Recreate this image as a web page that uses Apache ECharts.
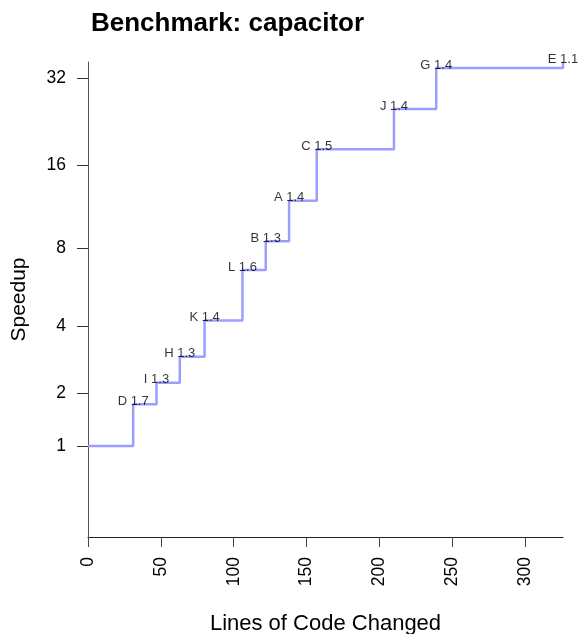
<!DOCTYPE html>
<html>
<head>
<meta charset="utf-8">
<script src="https://cdn.jsdelivr.net/npm/echarts@6/dist/echarts.min.js"></script>
<style>
  html, body { margin: 0; padding: 0; background: #fff; }
  #main { width: 579px; height: 634px; }
</style>
</head>
<body>
<div id="main"></div>
<script>
// step names, lines changed where each step lands, cumulative speedup and per-step factor
var steps = ['', 'D', 'I', 'H', 'K', 'L', 'B', 'A', 'C', 'J', 'G', 'E'];
var linesChanged = [0, 31, 47, 63, 80, 106, 122, 138, 157, 210, 239, 326];
var cumSpeedup = [1, 1.75, 2.24, 2.95, 4.2, 6.65, 8.52, 11.97, 18.19, 25.08, 34.65, 36.3];
var stepFactor = [null, 1.7, 1.3, 1.3, 1.4, 1.6, 1.3, 1.4, 1.5, 1.4, 1.4, 1.1];

var yTicks = [1, 2, 4, 8, 16, 32];
var xTicks = [0, 50, 100, 150, 200, 250, 300];

// y axis is drawn on log(1 + speedup)
function tr(v) { return Math.log(1 + v); }

var lineData = [];
var labelData = [];
for (var i = 0; i < steps.length; i++) {
    lineData.push([linesChanged[i], tr(cumSpeedup[i])]);
    if (steps[i]) {
        labelData.push([linesChanged[i], tr(cumSpeedup[i]), steps[i], stepFactor[i].toFixed(1)]);
    }
}

var font = "'Liberation Sans', Arial, Helvetica, sans-serif";
var chart = echarts.init(document.getElementById('main'));

var option = {
    animation: false,
    title: {
        text: 'Benchmark: capacitor',
        left: 86,
        top: 6,
        textStyle: { fontFamily: font, fontSize: 26, fontWeight: 'bold', color: '#000' }
    },
    grid: { left: 88, right: 16, top: 62, bottom: 97, outerBoundsMode: 'none' },
    xAxis: {
        type: 'value',
        min: 0,
        max: 326,
        name: 'Lines of Code Changed',
        nameLocation: 'middle',
        nameGap: 76,
        nameTextStyle: { fontFamily: font, fontSize: 22, color: '#000' },
        axisLine: { show: true, onZero: false, lineStyle: { color: '#222', width: 1 } },
        axisTick: { show: true, length: 10, customValues: xTicks, lineStyle: { color: '#444' } },
        axisLabel: {
            customValues: xTicks,
            rotate: 90,
            margin: 20,
            fontFamily: font,
            fontSize: 17.5,
            color: '#000'
        },
        splitLine: { show: false }
    },
    yAxis: {
        type: 'value',
        min: 0,
        max: tr(36.3),
        name: 'Speedup',
        nameLocation: 'middle',
        nameGap: 58,
        nameTextStyle: { fontFamily: font, fontSize: 21, color: '#000' },
        axisLine: { show: true, lineStyle: { color: '#555', width: 1 } },
        axisTick: { show: true, length: 11, customValues: yTicks.map(tr), lineStyle: { color: '#333' } },
        axisLabel: {
            customValues: yTicks.map(tr),
            margin: 22,
            fontFamily: font,
            fontSize: 17.5,
            color: '#000',
            formatter: function (v) { return Math.round(Math.exp(v) - 1); }
        },
        splitLine: { show: false }
    },
    series: [
        {
            type: 'line',
            step: 'end',
            data: lineData,
            showSymbol: false,
            lineStyle: { color: '#9d9dff', width: 2.5 },
            z: 2
        },
        {
            type: 'scatter',
            data: labelData,
            symbolSize: 1,
            itemStyle: { color: 'rgba(0,0,0,0)' },
            label: {
                show: true,
                position: 'inside',
                offset: [0, -3],
                fontFamily: font,
                fontSize: 13,
                color: '#000',
                formatter: function (p) { return p.data[2] + ' ' + p.data[3]; }
            },
            z: 3
        }
    ]
};

chart.setOption(option);
</script>
</body>
</html>
